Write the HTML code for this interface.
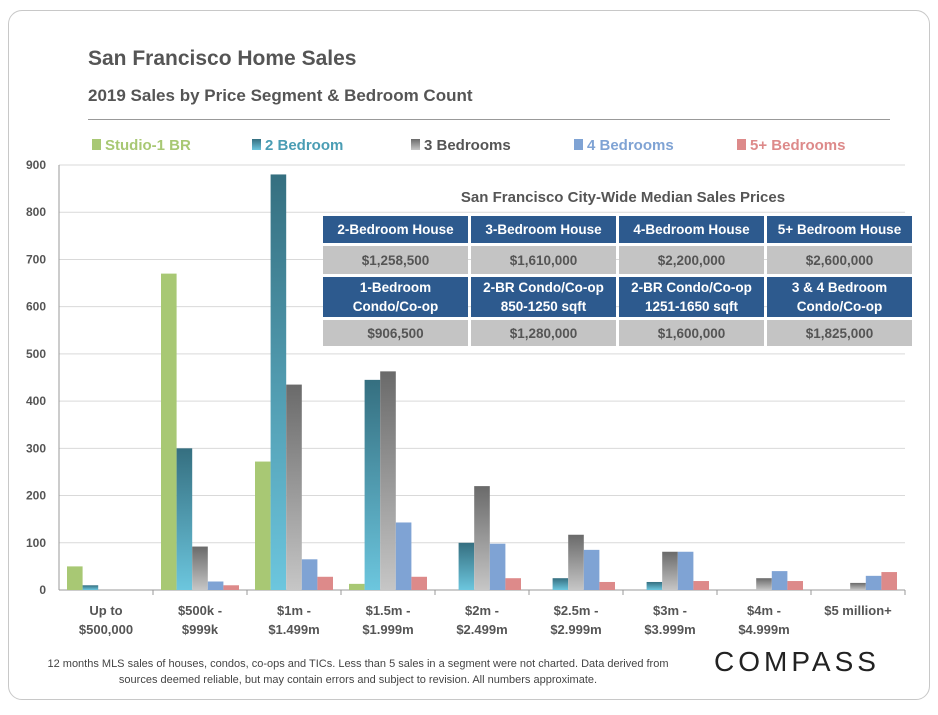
<!DOCTYPE html>
<html><head><meta charset="utf-8">
<style>
body{margin:0;width:938px;height:715px;background:#fff;font-family:"Liberation Sans",sans-serif;overflow:hidden}
.frame{position:absolute;left:8px;top:10px;width:920px;height:688px;border:1px solid #c8c8c8;border-radius:14px;background:#fff}
.t{position:absolute;color:#555;font-weight:bold}
table{position:absolute;left:320px;top:213px;border-collapse:separate;border-spacing:3px;font-weight:bold;font-size:13.5px;text-align:center}
td{width:145px;padding:0;vertical-align:middle}
td.h{background:#2d5a8e;color:#fff}
td.g{background:#c4c4c4;color:#555}
</style></head><body>
<div class="frame"></div>
<div class="t" style="left:88px;top:47px;font-size:21px">San Francisco Home Sales</div>
<div class="t" style="left:88px;top:86px;font-size:17px">2019 Sales by Price Segment &amp; Bedroom Count</div>
<div style="position:absolute;left:88px;top:119px;width:802px;height:1px;background:#999"></div>
<svg id="chart" width="938" height="715" style="position:absolute;left:0;top:0"></svg>
<div class="t" style="left:320px;top:189px;width:606px;text-align:center;font-size:15px">San Francisco City-Wide Median Sales Prices</div>
<table>
<tr style="height:27px"><td class="h">2-Bedroom House</td><td class="h">3-Bedroom House</td><td class="h">4-Bedroom House</td><td class="h">5+ Bedroom House</td></tr>
<tr style="height:28px"><td class="g">$1,258,500</td><td class="g">$1,610,000</td><td class="g">$2,200,000</td><td class="g">$2,600,000</td></tr>
<tr style="height:40px"><td class="h" style="line-height:19px">1-Bedroom<br>Condo/Co-op</td><td class="h" style="line-height:19px">2-BR Condo/Co-op<br>850-1250 sqft</td><td class="h" style="line-height:19px">2-BR Condo/Co-op<br>1251-1650 sqft</td><td class="h" style="line-height:19px">3 &amp; 4 Bedroom<br>Condo/Co-op</td></tr>
<tr style="height:26px"><td class="g">$906,500</td><td class="g">$1,280,000</td><td class="g">$1,600,000</td><td class="g">$1,825,000</td></tr>
</table>
<div style="position:absolute;left:46px;top:656px;width:624px;font-size:11px;color:#444;line-height:16px;text-align:center">12 months MLS sales of houses, condos, co-ops and TICs. Less than 5 sales in a segment were not charted. Data derived from sources deemed reliable, but may contain errors and subject to revision. All numbers approximate.</div>
<div style="position:absolute;left:714px;top:646px;font-size:28px;letter-spacing:4px;color:#222">COMPASS</div>
<script>
const categories=[["Up to","$500,000"],["$500k -","$999k"],["$1m -","$1.499m"],["$1.5m -","$1.999m"],["$2m -","$2.499m"],["$2.5m -","$2.999m"],["$3m -","$3.999m"],["$4m -","$4.999m"],["$5 million+",""]];
const seriesNames=["Studio-1 BR","2 Bedroom","3 Bedrooms","4 Bedrooms","5+ Bedrooms"];
const studio=[50,670,272,13,0,0,0,0,0];
const bed2=[10,300,880,445,100,25,17,0,0];
const bed3=[0,92,435,463,220,117,81,25,15];
const bed4=[0,18,65,143,98,85,81,40,30];
const bed5=[0,10,28,28,25,17,19,19,38];
const yTicks=[0,100,200,300,400,500,600,700,800,900];
const series=[studio,bed2,bed3,bed4,bed5];
const NS="http://www.w3.org/2000/svg";
const svg=document.getElementById('chart');
const x0=59,x1=905,yb=590,yt=165,ymax=900;
const cw=(x1-x0)/categories.length,bw=15.6;
const y=v=>yb-(v/ymax)*(yb-yt);
function el(t,a){const e=document.createElementNS(NS,t);for(const k in a)e.setAttribute(k,a[k]);svg.appendChild(e);return e;}
svg.innerHTML='<defs><linearGradient id="g0" x1="0" y1="0" x2="0" y2="1"><stop offset="0" stop-color="#a8c874"/><stop offset="1" stop-color="#a8c874"/></linearGradient><linearGradient id="g1" x1="0" y1="0" x2="0" y2="1"><stop offset="0" stop-color="#356f80"/><stop offset="1" stop-color="#6cc6de"/></linearGradient><linearGradient id="g2" x1="0" y1="0" x2="0" y2="1"><stop offset="0" stop-color="#6a6a6a"/><stop offset="1" stop-color="#c6c6c6"/></linearGradient><linearGradient id="g3" x1="0" y1="0" x2="0" y2="1"><stop offset="0" stop-color="#7fa3d4"/><stop offset="1" stop-color="#7fa3d4"/></linearGradient><linearGradient id="g4" x1="0" y1="0" x2="0" y2="1"><stop offset="0" stop-color="#dd8a8a"/><stop offset="1" stop-color="#dd8a8a"/></linearGradient></defs>';
yTicks.forEach(t=>{
  const g=el('line',{x1:x0,x2:x1,y1:y(t),y2:y(t),stroke:t?'#d9d9d9':'#999','stroke-width':1});
  
  const tx=el('text',{x:46,y:y(t)+4,'text-anchor':'end','font-size':12,'font-weight':'bold',fill:'#555'});
  tx.textContent=t;
});
const ax=el('line',{x1:x0,x2:x0,y1:yt,y2:yb,stroke:'#999'});

categories.forEach((c,i)=>{
  const cx=x0+cw*(i+0.5);
  const tk=el('line',{x1:x0+cw*(i+1),x2:x0+cw*(i+1),y1:yb,y2:yb+5,stroke:'#999'});
  
  c.forEach((line,j)=>{
    const tx=el('text',{x:cx,y:yb+25+j*19,'text-anchor':'middle','font-size':13,'font-weight':'bold',fill:'#555'});
    tx.textContent=line;
  });
  series.forEach((s,k)=>{
    if(!s[i])return;
    const bx=x0+cw*i+(cw-5*bw)/2+k*bw;
    const r=el('rect',{x:bx,y:y(s[i]),width:bw,height:yb-y(s[i]),fill:'url(#g'+k+')'});
    
  });
});
const lx=[92,252,411,574,737],lc=['#a8c874','#4a9db4','#8a8a8a','#7fa3d4','#dd8a8a'];
seriesNames.forEach((n,k)=>{
  const r=el('rect',{x:lx[k],y:139,width:9,height:11,fill:'url(#g'+k+')'});
  
  const t=el('text',{x:lx[k]+13,y:150,'font-size':15,'font-weight':'bold',fill:k==2?'#555':lc[k]});
  t.textContent=n;
});
</script>
</body></html>
